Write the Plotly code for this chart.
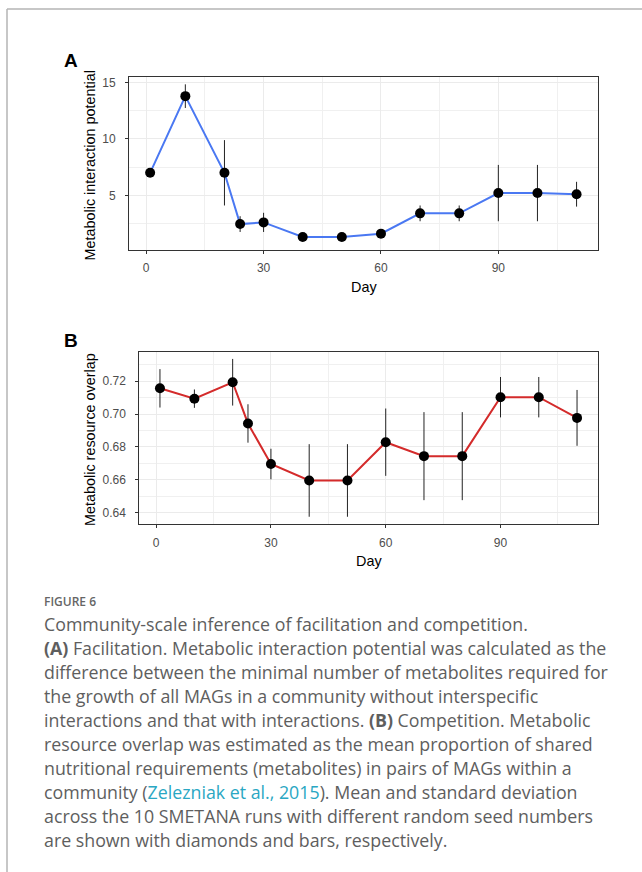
import plotly.graph_objects as go

W, H = 642, 872

days = [1, 10, 20, 24, 30, 40, 50, 60, 70, 80, 90, 100, 110]
mip_mean = [7.0, 13.8, 7.0, 2.45, 2.6, 1.3, 1.3, 1.6, 3.4, 3.4, 5.2, 5.2, 5.1]
mip_sd = [0.1, 1.05, 2.9, 0.7, 0.85, 0.1, 0.1, 0.15, 0.7, 0.7, 2.5, 2.5, 1.1]
mro_mean = [0.7157, 0.7094, 0.7194, 0.6943, 0.6696, 0.6596, 0.6596, 0.6829,
            0.6744, 0.6744, 0.7103, 0.7103, 0.6977]
mro_sd = [0.0117, 0.0056, 0.0142, 0.0117, 0.0093, 0.0221, 0.0221, 0.0205,
          0.0268, 0.0268, 0.0123, 0.0123, 0.0170]

x_ticks = [0, 30, 60, 90]
a_yticks = [5, 10, 15]
b_yticks = [0.64, 0.66, 0.68, 0.70, 0.72]

caption_title = "FIGURE 6"
caption_lines = [
    "Community-scale inference of facilitation and competition.",
    "<b>(A)</b> Facilitation. Metabolic interaction potential was calculated as the",
    "difference between the minimal number of metabolites required for",
    "the growth of all MAGs in a community without interspecific",
    "interactions and that with interactions. <b>(B)</b> Competition. Metabolic",
    "resource overlap was estimated as the mean proportion of shared",
    "nutritional requirements (metabolites) in pairs of MAGs within a",
    "community (<span style='color:#2aa7c3'>Zelezniak et al., 2015</span>). Mean and standard deviation",
    "across the 10 SMETANA runs with different random seed numbers",
    "are shown with diamonds and bars, respectively.",
]

BLUE = "#4a78f2"
RED = "#d42b2b"

def px(x):
    return x / W

def py(y):
    return 1 - y / H

fig = go.Figure()

# Panel A
fig.add_trace(go.Scatter(x=days, y=mip_mean, mode="lines",
                         line=dict(color=BLUE, width=2), xaxis="x", yaxis="y",
                         showlegend=False, hoverinfo="skip"))
fig.add_trace(go.Scatter(x=days, y=mip_mean, mode="markers",
                         marker=dict(color="black", size=10),
                         error_y=dict(type="data", array=mip_sd, visible=True,
                                      thickness=1, width=0, color="#222"),
                         xaxis="x", yaxis="y", showlegend=False))
# Panel B
fig.add_trace(go.Scatter(x=days, y=mro_mean, mode="lines",
                         line=dict(color=RED, width=2), xaxis="x2", yaxis="y2",
                         showlegend=False, hoverinfo="skip"))
fig.add_trace(go.Scatter(x=days, y=mro_mean, mode="markers",
                         marker=dict(color="black", size=10),
                         error_y=dict(type="data", array=mro_sd, visible=True,
                                      thickness=1, width=0, color="#222"),
                         xaxis="x2", yaxis="y2", showlegend=False))

tickfont = dict(family="Liberation Sans, Arial", size=12, color="#4d4d4d")
common = dict(showline=True, linecolor="#333333", linewidth=1, mirror=True,
              ticks="outside", ticklen=3, tickcolor="#333333", tickwidth=1,
              showgrid=True, gridcolor="#ebebeb", gridwidth=1.1,
              zeroline=False, tickfont=tickfont)

minor_grid = dict(showgrid=True, gridcolor="#f0f0f0", gridwidth=0.6, ticks="")

fig.update_layout(
    width=W, height=H, margin=dict(l=0, r=0, t=0, b=0),
    paper_bgcolor="white", plot_bgcolor="white",
    xaxis=dict(domain=[px(129), px(597.7)], anchor="y", range=[-4.4, 115.4],
               tickvals=x_ticks, ticklabelstandoff=4,
               minor=dict(dtick=15, tick0=0, **minor_grid), **common),
    yaxis=dict(domain=[py(250), py(77)], anchor="x", range=[0.15, 15.5],
               tickvals=a_yticks, ticklabelstandoff=7,
               minor=dict(dtick=2.5, tick0=0, **minor_grid), **common),
    xaxis2=dict(domain=[px(139.3), px(597.7)], anchor="y2", range=[-4.4, 115.4],
                tickvals=x_ticks, ticklabelstandoff=4,
                minor=dict(dtick=15, tick0=0, **minor_grid), **common),
    yaxis2=dict(domain=[py(524.3), py(351.7)], anchor="x2", range=[0.6329, 0.738],
                tickvals=b_yticks, tickformat=".2f", ticklabelstandoff=7,
                minor=dict(dtick=0.01, tick0=0, **minor_grid), **common),
)

ann = []
titlefont = dict(family="Liberation Sans, Arial", size=14.4, color="black")
ann.append(dict(text="Metabolic interaction potential", x=px(89.5), y=py(165),
                xref="paper", yref="paper", textangle=-90, showarrow=False,
                font=titlefont, xanchor="center", yanchor="middle"))
ann.append(dict(text="Metabolic resource overlap", x=px(89.5), y=py(439.5),
                xref="paper", yref="paper", textangle=-90, showarrow=False,
                font=titlefont, xanchor="center", yanchor="middle"))
ann.append(dict(text="Day", x=px(364), y=py(287), xref="paper", yref="paper",
                showarrow=False, font=titlefont, xanchor="center", yanchor="middle"))
ann.append(dict(text="Day", x=px(369), y=py(561), xref="paper", yref="paper",
                showarrow=False, font=titlefont, xanchor="center", yanchor="middle"))
panelfont = dict(family="Liberation Sans, Arial", size=19, color="black")
ann.append(dict(text="<b>A</b>", x=px(71), y=py(60), xref="paper", yref="paper",
                showarrow=False, font=panelfont, xanchor="center", yanchor="middle"))
ann.append(dict(text="<b>B</b>", x=px(71), y=py(340), xref="paper", yref="paper",
                showarrow=False, font=panelfont, xanchor="center", yanchor="middle"))

ann.append(dict(text=caption_title, x=px(41.5), y=py(601), xref="paper",
                yref="paper", showarrow=False, xanchor="left", yanchor="middle",
                font=dict(family="Open Sans", size=12, color="#666666", weight=600)))
for i, line in enumerate(caption_lines):
    ann.append(dict(text=line, x=px(41.5), y=py(624 + 24 * i), xref="paper",
                    yref="paper", showarrow=False, xanchor="left", yanchor="middle",
                    font=dict(family="Open Sans", size=17.8, color="#5e5e5e")))
fig.update_layout(annotations=ann)

fig.update_layout(shapes=[
    dict(type="line", xref="paper", yref="paper", x0=px(7), x1=1, y0=py(9), y1=py(9),
         line=dict(color="#b5b5b5", width=1.5)),
    dict(type="line", xref="paper", yref="paper", x0=px(7), x1=px(7), y0=py(9), y1=0,
         line=dict(color="#b5b5b5", width=1.5)),
])

fig.write_html("out.html")
